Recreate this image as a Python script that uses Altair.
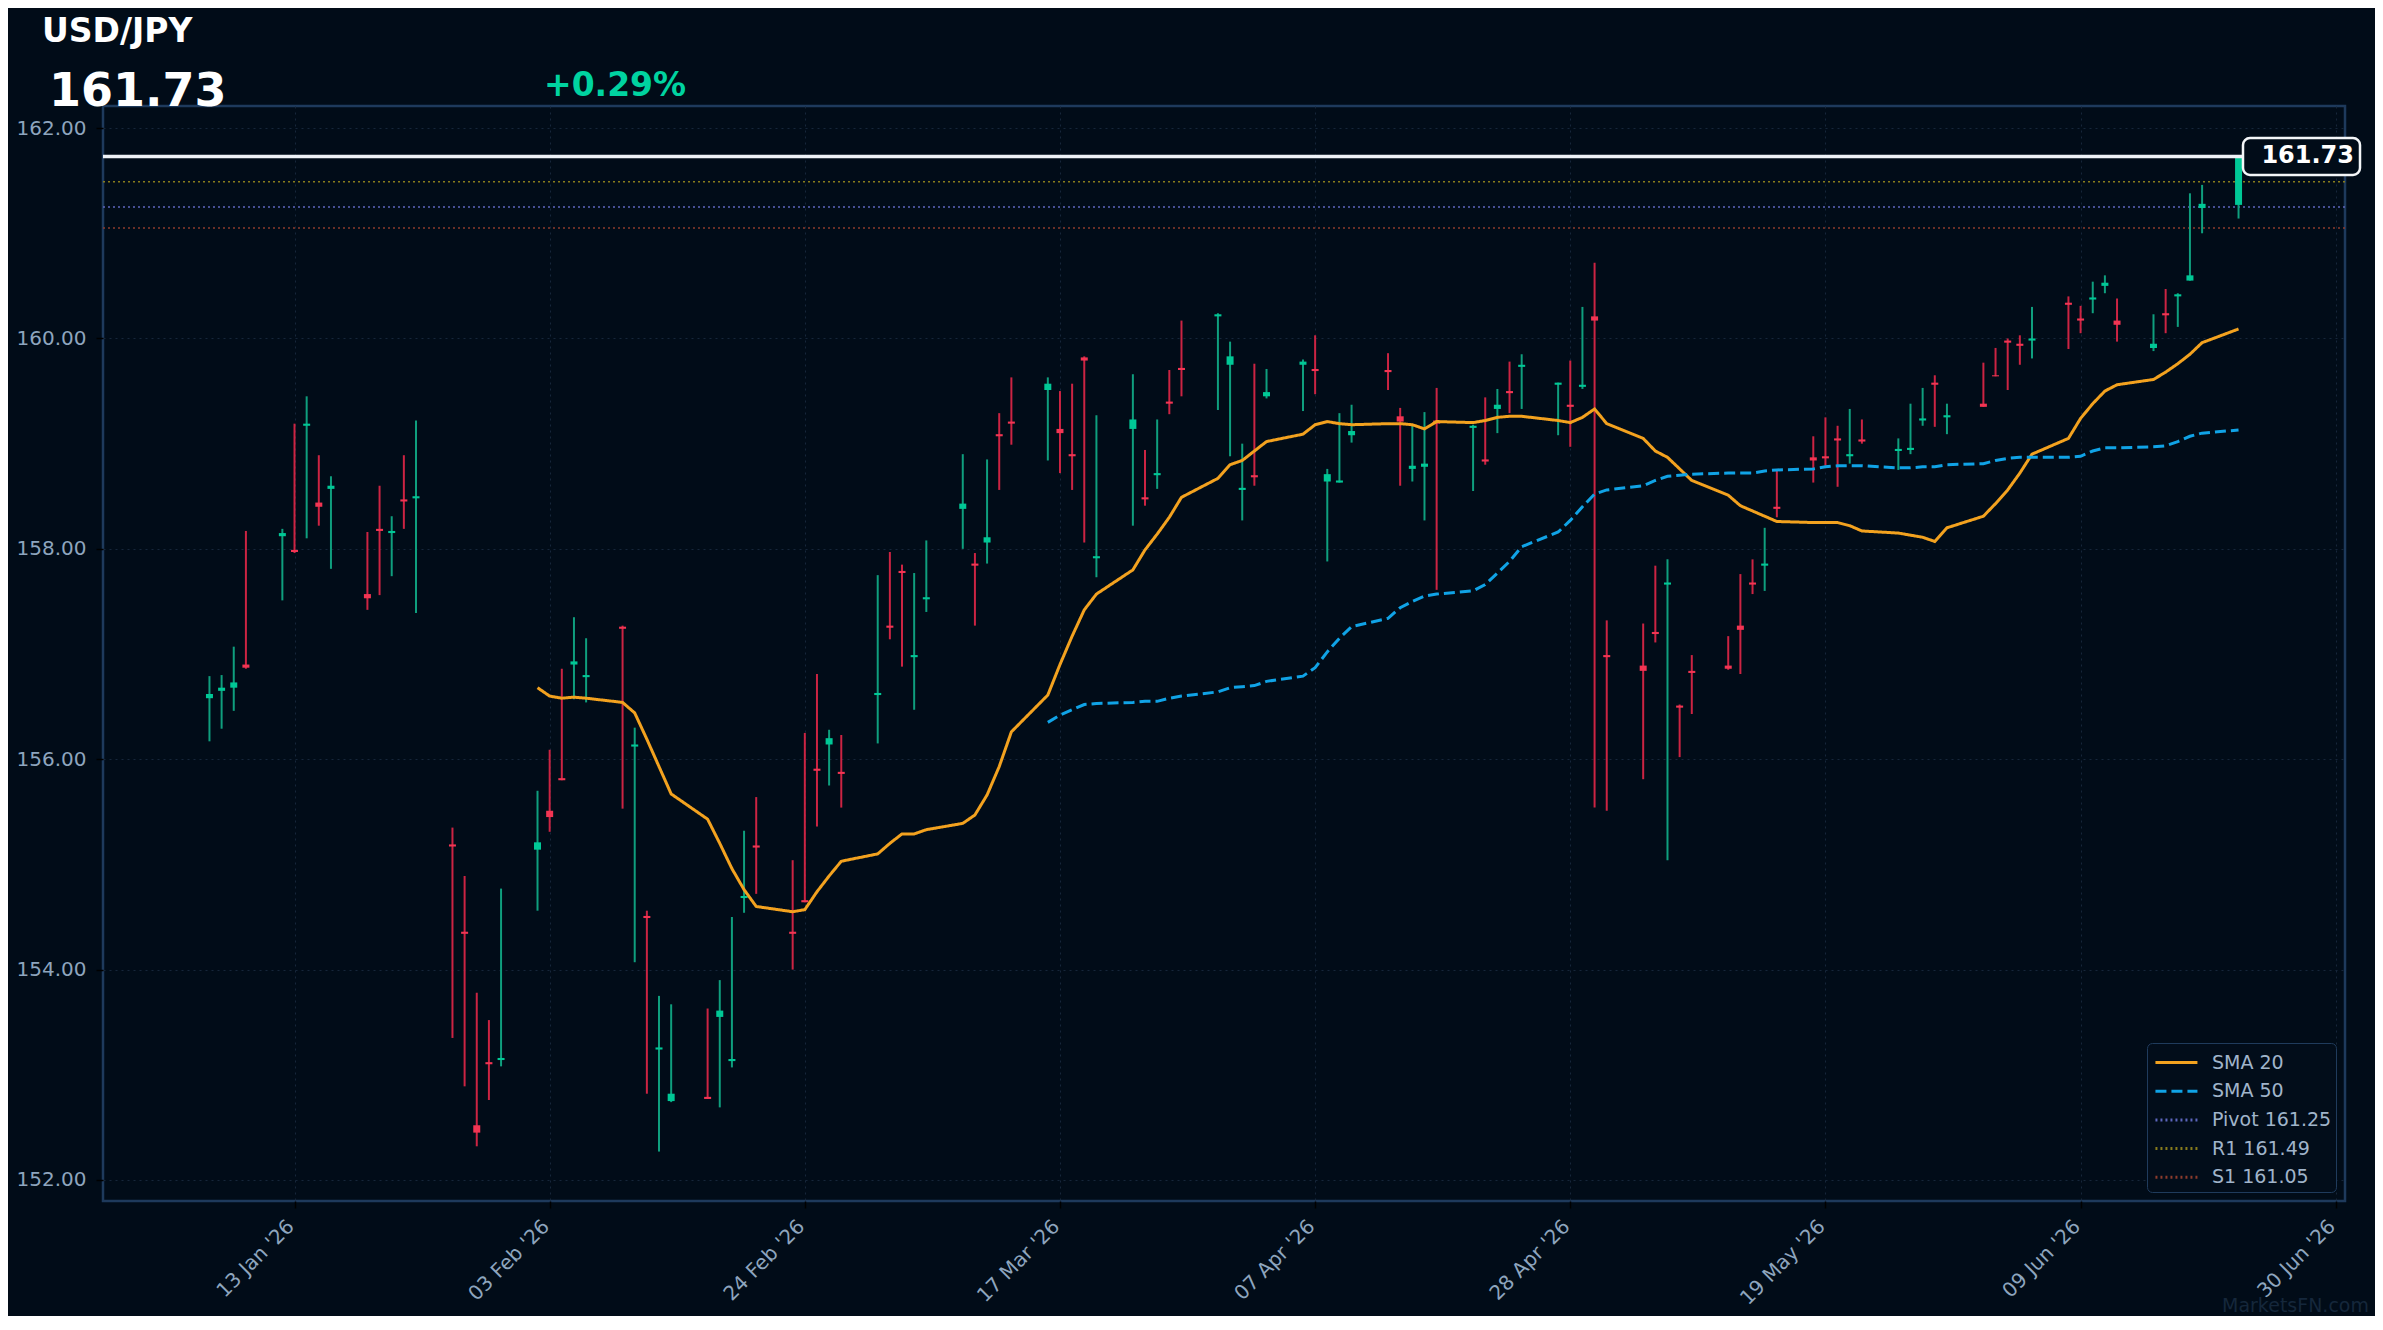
import altair as alt
import pandas as pd

# ---------------- data ----------------
symbol_name = "USD/JPY"
last_price = 161.73
change_text = "+0.29%"
watermark = "MarketsFN.com"

# trading days (2026) by month
trading_days = {
    1: [6, 7, 8, 9, 12, 13, 14, 15, 16, 19, 20, 21, 22, 23, 26, 27, 28, 29, 30],
    2: [2, 3, 4, 5, 6, 9, 10, 11, 12, 13, 16, 17, 18, 19, 20, 23, 24, 25, 26, 27],
    3: [2, 3, 4, 5, 6, 9, 10, 11, 12, 13, 16, 17, 18, 19, 20, 23, 24, 25, 26, 27, 30, 31],
    4: [1, 2, 3, 6, 7, 8, 9, 10, 13, 14, 15, 16, 17, 20, 21, 22, 23, 24, 27, 28, 29, 30],
    5: [1, 4, 5, 6, 7, 8, 11, 12, 13, 14, 15, 18, 19, 20, 21, 22, 25, 26, 27, 28, 29],
    6: [1, 2, 3, 4, 5, 8, 9, 10, 11, 12, 15, 16, 17, 18, 19, 22],
}

opens = [
    156.58, 156.65, 156.68, 156.90, 158.12, 157.99, 159.17, 158.44, 158.57, 157.57,
    158.19, 158.15, 158.47, 158.48, 155.19, 154.36, 152.52, 153.12, 153.14,
    155.14, 155.51, 155.82, 156.90, 156.78, 157.26, 156.12, 154.51, 153.24, 152.75,
    152.79, 153.55, 153.13, 154.68, 155.18, 154.36, 154.66, 155.91, 156.14, 155.88,
    156.61, 157.27, 157.79, 156.97, 157.52, 158.38, 157.86, 158.06, 159.09, 159.21,
    159.51, 159.14, 158.90, 159.82, 157.91, 159.14, 158.49, 158.70, 159.40, 159.72,
    160.21, 159.75,
    158.56, 158.70, 159.45, 159.75, 159.71, 158.64, 158.63, 159.08, 159.70, 159.26,
    158.76, 158.78, 159.22, 159.15, 158.85, 159.33, 159.50, 159.73, 159.56, 159.37,
    159.54, 160.21,
    156.99, 156.89, 157.21, 157.66, 156.51, 156.84, 156.89, 157.27, 157.68, 157.84,
    158.40, 158.87, 158.88, 159.05, 158.88, 159.04, 158.93, 158.94, 159.22, 159.58,
    159.25,
    159.38, 159.65, 159.98, 159.95, 159.98, 160.34, 160.19, 160.37, 160.50, 160.17,
    159.91, 160.24, 160.40, 160.55, 161.24, 161.27,
]
closes = [
    156.62, 156.68, 156.73, 156.87, 158.15, 157.97, 159.19, 158.40, 158.60, 157.53,
    158.17, 158.17, 158.45, 158.50, 155.17, 154.34, 152.45, 153.10, 153.16,
    155.21, 155.45, 155.80, 156.93, 156.80, 157.24, 156.14, 154.49, 153.26, 152.82,
    152.77, 153.61, 153.15, 154.70, 155.16, 154.34, 154.64, 155.89, 156.20, 155.86,
    156.63, 157.25, 157.77, 156.99, 157.54, 158.43, 157.84, 158.11, 159.07, 159.19,
    159.57, 159.10, 158.88, 159.79, 157.93, 159.23, 158.47, 158.72, 159.38, 159.70,
    160.23, 159.83,
    158.58, 158.68, 159.49, 159.78, 159.69, 158.71, 158.65, 159.12, 159.68, 159.21,
    158.79, 158.81, 159.19, 159.17, 158.83, 159.37, 159.48, 159.75, 159.58, 159.35,
    159.56, 160.17,
    156.97, 156.84, 157.19, 157.68, 156.49, 156.82, 156.86, 157.23, 157.66, 157.86,
    158.38, 158.84, 158.86, 159.03, 158.90, 159.02, 158.95, 158.96, 159.24, 159.56,
    159.27,
    159.35, 159.64, 159.96, 159.93, 160.00, 160.32, 160.17, 160.39, 160.53, 160.13,
    159.95, 160.22, 160.42, 160.60, 161.28, 161.73,
]
highs = [
    156.79, 156.80, 157.07, 158.17, 158.19, 159.19, 159.45, 158.89, 158.69, 158.16,
    158.60, 158.31, 158.89, 159.22, 155.35, 154.89, 153.78, 153.52, 154.77,
    155.70, 156.09, 156.86, 157.35, 157.15, 157.27, 156.30, 154.56, 153.75, 153.67,
    153.63, 153.90, 154.50, 155.32, 155.64, 155.04, 156.25, 156.81, 156.28, 156.23,
    157.75, 157.97, 157.85, 157.77, 158.08, 158.90, 157.96, 158.85, 159.29, 159.63,
    159.63, 159.50, 159.57, 159.83, 159.27, 159.66, 158.94, 159.23, 159.70, 160.17,
    160.24, 159.97,
    159.00, 159.76, 159.71, 159.80, 160.03, 158.76, 159.29, 159.37, 159.86, 159.34,
    159.17, 159.30, 159.53, 159.18, 159.44, 159.52, 159.78, 159.85, 159.58, 159.79,
    160.30, 160.72,
    157.32, 157.29, 157.84, 157.90, 156.52, 156.99, 157.17, 157.76, 157.90, 158.20,
    158.74, 159.07, 159.25, 159.17, 159.33, 159.23, 159.05, 159.38, 159.53, 159.65,
    159.38,
    159.77, 159.91, 160.00, 160.03, 160.30, 160.40, 160.31, 160.54, 160.60, 160.38,
    160.23, 160.47, 160.43, 161.38, 161.46, 161.74,
]
lows = [
    156.17, 156.29, 156.46, 156.86, 157.51, 157.96, 158.10, 158.22, 157.81, 157.42,
    157.56, 157.74, 158.19, 157.39, 153.35, 152.89, 152.32, 152.76, 153.08,
    154.56, 155.31, 155.80, 156.57, 156.54, 155.53, 154.07, 152.82, 152.27, 152.74,
    152.77, 152.69, 153.07, 154.54, 154.72, 154.00, 154.64, 155.36, 155.75, 155.54,
    156.15, 157.14, 156.88, 156.47, 157.40, 158.00, 157.27, 157.86, 158.56, 158.99,
    158.84, 158.72, 158.56, 158.06, 157.73, 158.22, 158.41, 158.57, 159.28, 159.45,
    159.32, 158.88,
    158.27, 158.60, 159.43, 159.31, 159.47, 157.88, 158.63, 159.01, 159.51, 158.60,
    158.64, 158.27, 157.61, 158.55, 158.80, 159.10, 159.29, 159.33, 159.08, 158.97,
    159.52, 155.54,
    155.51, 155.81, 157.11, 155.04, 156.02, 156.43, 156.85, 156.81, 157.57, 157.60,
    158.30, 158.63, 158.79, 158.59, 158.81, 159.00, 158.75, 158.90, 159.17, 159.16,
    159.09,
    159.35, 159.64, 159.51, 159.75, 159.81, 159.90, 160.05, 160.24, 160.43, 159.97,
    159.88, 160.05, 160.11, 160.55, 161.00, 161.14,
]

# moving averages (they end on the last session)
sma20 = [
    156.68, 156.60, 156.58, 156.59, 156.58, 156.54, 156.44, 156.19, 155.93, 155.67,
    155.43, 155.20, 154.96, 154.76, 154.60, 154.55, 154.57, 154.74, 154.89, 155.03,
    155.10, 155.20, 155.29, 155.29, 155.33, 155.39, 155.47, 155.66, 155.93, 156.26,
    156.61, 156.90, 157.17, 157.42, 157.57, 157.80, 157.99, 158.14, 158.30, 158.49,
    158.67, 158.80,
    158.84, 158.93, 159.02, 159.09, 159.18, 159.21, 159.19, 159.18, 159.19, 159.19,
    159.18, 159.14, 159.21, 159.20, 159.22, 159.25, 159.26, 159.26, 159.22, 159.20,
    159.25, 159.33,
    159.19, 159.05, 158.93, 158.87, 158.76, 158.65, 158.51, 158.41, 158.36, 158.31,
    158.26, 158.25, 158.25, 158.25, 158.22, 158.17, 158.15, 158.13, 158.11, 158.07,
    158.20,
    158.31, 158.43, 158.56, 158.72, 158.90, 159.05, 159.24, 159.38, 159.50, 159.56,
    159.61, 159.68, 159.76, 159.85, 159.96, 160.09,
]
sma50 = [
    156.35, 156.42, 156.47, 156.52, 156.53, 156.54, 156.55, 156.55, 156.58, 156.60,
    156.64, 156.68,
    156.69, 156.70, 156.74, 156.79, 156.87, 157.02, 157.15, 157.26, 157.34, 157.44,
    157.50, 157.55, 157.57, 157.60, 157.66, 157.77, 157.88, 158.02, 158.16, 158.27,
    158.40, 158.52,
    158.56, 158.60, 158.65, 158.69, 158.70, 158.71, 158.72, 158.72, 158.72, 158.74,
    158.75, 158.76, 158.78, 158.79, 158.79, 158.79, 158.77, 158.77, 158.78, 158.78,
    158.80,
    158.81, 158.84, 158.86, 158.87, 158.87, 158.87, 158.88, 158.93, 158.96, 158.96,
    158.97, 158.98, 159.02, 159.07, 159.10, 159.13,
]

pivot_names = ["Pivot", "R1", "S1"]
pivot_values = [161.25, 161.49, 161.05]

y_ticks = [152, 154, 156, 158, 160, 162]
x_tick_dates = [(2026, 1, 13), (2026, 2, 3), (2026, 2, 24), (2026, 3, 17), (2026, 4, 7),
                (2026, 4, 28), (2026, 5, 19), (2026, 6, 9), (2026, 6, 30)]

# ---------------- styles ----------------
BG = "#010c18"
FONT = "DejaVu Sans"
G_BODY, G_WICK = "#00c896", "#0f9f7e"
R_BODY, R_WICK = "#f23553", "#cc2443"
AXIS_TXT = "#8ea5be"
W, H = 2242, 1095
Y_MIN, Y_MAX = 151.8, 162.21

dates = [f"2026-{m:02d}-{d:02d}T00:00:00" for m in trading_days for d in trading_days[m]]
ohlc = pd.DataFrame({"date": dates, "open": opens, "high": highs, "low": lows, "close": closes})

sma_df = pd.concat([
    pd.DataFrame({"date": dates[len(dates) - len(sma20):], "value": sma20, "series": "SMA 20"}),
    pd.DataFrame({"date": dates[len(dates) - len(sma50):], "value": sma50, "series": "SMA 50"}),
], ignore_index=True)

pivot_labels = [f"{n} {v:.2f}" for n, v in zip(pivot_names, pivot_values)]
pivot_df = pd.DataFrame({"value": pivot_values, "series": pivot_labels})

series_domain = ["SMA 20", "SMA 50"] + pivot_labels
series_colors = ["#f3a21f", "#10a3e6", "#5d66bd", "#887c1c", "#8c3b2c"]
series_dashes = [[1, 0], [11, 5], [2, 3], [2, 3], [2, 3]]

x_scale = alt.Scale(domain=[alt.DateTime(year=2025, month=12, date=28, hours=15, minutes=36),
                            alt.DateTime(year=2026, month=6, date=30, hours=8, minutes=24)])
x_axis = alt.Axis(values=[alt.DateTime(year=a, month=b, date=c) for a, b, c in x_tick_dates],
                  format="%d %b '%y", labelAngle=-45, labelAlign="right", labelBaseline="top",
                  labelFlush=False, labelOverlap=False, title=None, tickSize=7, labelPadding=8,
                  labelOffset=-11)
y_scale = alt.Scale(domain=[Y_MIN, Y_MAX], nice=False, zero=False)
y_axis = alt.Axis(values=y_ticks, format=".2f", title=None, tickSize=7, labelPadding=10)


def X():
    return alt.X("date:T", scale=x_scale, axis=x_axis)


def Y(field):
    return alt.Y(field, scale=y_scale, axis=y_axis)


legend = alt.Legend(title=None, orient="bottom-right", offset=9, fillColor="#020d1a",
                    strokeColor="#1f3b5c", cornerRadius=5, padding=4,
                    symbolType="M-0.79,0H2.21", symbolSize=784, symbolStrokeWidth=3,
                    labelFontSize=19, labelColor="#a0b4ca", labelFont=FONT, labelOffset=30,
                    rowPadding=2.7)
color_enc = alt.Color("series:N", scale=alt.Scale(domain=series_domain, range=series_colors),
                      legend=legend)
dash_enc = alt.StrokeDash("series:N", scale=alt.Scale(domain=series_domain, range=series_dashes),
                          legend=legend)

up = alt.datum.close >= alt.datum.open

pivots = alt.Chart(pivot_df).mark_rule(strokeWidth=1.6).encode(
    y=Y("value:Q"), color=color_enc, strokeDash=dash_enc)

wicks = alt.Chart(ohlc).mark_rule(strokeWidth=2).encode(
    x=X(), y=Y("low:Q"), y2="high:Q",
    color=alt.condition(up, alt.value(G_WICK), alt.value(R_WICK)))

bodies = alt.Chart(ohlc).mark_bar(size=7).encode(
    x=X(), y=Y("open:Q"), y2="close:Q",
    color=alt.condition(up, alt.value(G_BODY), alt.value(R_BODY)))

smas = alt.Chart(sma_df).mark_line(strokeWidth=3).encode(
    x=X(), y=Y("value:Q"), color=color_enc, strokeDash=dash_enc, detail="series:N")

half_box = 18.5 * (Y_MAX - Y_MIN) / H
price_df = pd.DataFrame({"price": [last_price], "lo": [last_price - half_box],
                         "hi": [last_price + half_box], "label": [f"{last_price:.2f}"]})

price_line = alt.Chart(price_df).mark_rule(color="#eef2f6", strokeWidth=3.5).encode(y=Y("price:Q"))
price_box = alt.Chart(price_df).mark_rect(fill=BG, stroke="#f4f6f8", strokeWidth=2.5,
                                          cornerRadius=7).encode(
    x=alt.value(2140), x2=alt.value(2257), y=Y("lo:Q"), y2="hi:Q")
price_txt = alt.Chart(price_df).mark_text(align="right", baseline="middle", font=FONT,
                                          fontSize=24, fontWeight="bold", color="#ffffff").encode(
    x=alt.value(2251), y=Y("price:Q"), text="label:N")

head_df = pd.DataFrame({"sym": [symbol_name], "px": [f"{last_price:.2f}"], "chg": [change_text],
                        "wm": [watermark]})
t_sym = alt.Chart(head_df).mark_text(align="left", baseline="alphabetic", font=FONT, fontSize=33,
                                     fontWeight="bold", color="#ffffff").encode(
    x=alt.value(-61), y=alt.value(-64), text="sym:N")
t_px = alt.Chart(head_df).mark_text(align="left", baseline="alphabetic", font=FONT, fontSize=46,
                                    fontWeight="bold", color="#ffffff").encode(
    x=alt.value(-54), y=alt.value(0), text="px:N")
t_chg = alt.Chart(head_df).mark_text(align="left", baseline="alphabetic", font=FONT, fontSize=33,
                                     fontWeight="bold", color="#00d3a0").encode(
    x=alt.value(441), y=alt.value(-10), text="chg:N")
t_wm = alt.Chart(head_df).mark_text(align="right", baseline="alphabetic", font=FONT, fontSize=19,
                                    color="#15273b").encode(
    x=alt.value(2266), y=alt.value(1206), text="wm:N")

chart = alt.layer(
    pivots, wicks, bodies, smas, price_line, price_box, price_txt, t_sym, t_px, t_chg, t_wm
).properties(
    width=W, height=H,
    autosize=alt.AutoSizeParams(type="none"),
    padding={"left": 95, "top": 98, "right": 30, "bottom": 115},
    background=BG,
).configure(font=FONT).configure_view(
    stroke="#1e3a5c", strokeWidth=2.5, fill=BG
).configure_axis(
    domain=False, labelFont=FONT, labelFontSize=20, labelColor=AXIS_TXT,
    grid=True, gridColor="#17263a", gridDash=[2, 4], gridWidth=1,
    tickColor="#000000", tickWidth=1.5,
)

chart.save("out.html", embed_options={"renderer": "svg", "actions": False})
